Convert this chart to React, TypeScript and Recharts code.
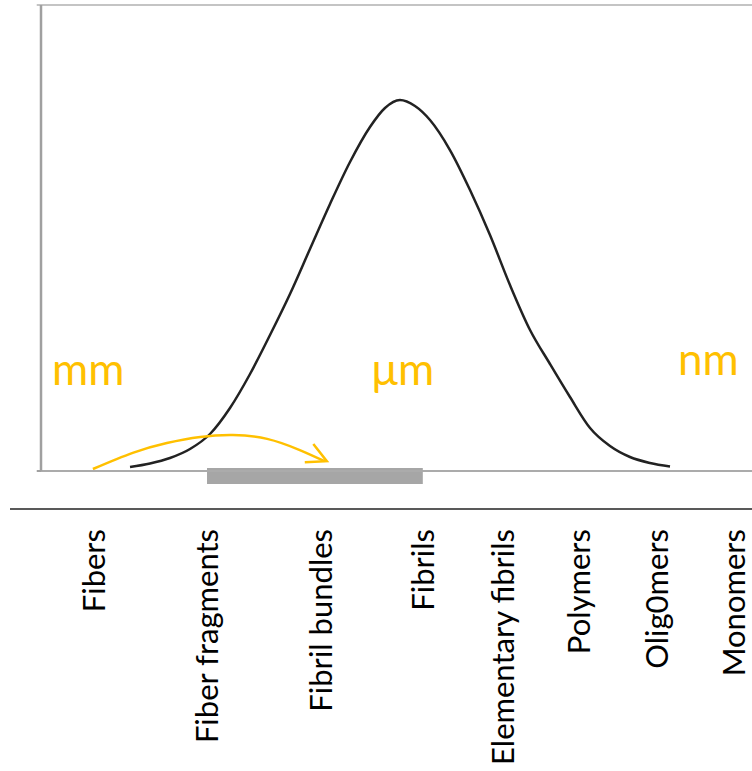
import React from "react";
import {
  ComposedChart,
  Line,
  Scatter,
  XAxis,
  YAxis,
  ReferenceLine,
  ReferenceArea,
} from "recharts";

// Size classes along the x axis (position in axis units, 0-100)
const categories = [
  "Fibers",
  "Fiber fragments",
  "Fibril bundles",
  "Fibrils",
  "Elementary fibrils",
  "Polymers",
  "Olig0mers",
  "Monomers",
];
const categoryPositions = [7.45, 23.35, 39.4, 53.7, 65.0, 75.7, 86.6, 97.5];

// Bell-shaped distribution curve
const curveX = [
  12.52, 15.33, 18.14, 20.96, 23.77, 26.58, 29.4, 32.21, 35.02, 37.83, 40.65,
  43.46, 46.27, 48.38, 50.49, 52.6, 54.71, 57.52, 60.34, 63.15, 65.96, 68.78,
  71.59, 74.4, 77.22, 80.03, 82.84, 85.65, 88.47,
];
const curveY = [
  0.86, 1.61, 2.79, 4.72, 7.94, 13.52, 20.82, 29.18, 37.98, 47.64, 57.3, 66.31,
  73.82, 77.9, 79.61, 78.33, 75.32, 68.88, 60.3, 50.64, 39.91, 30.26, 22.96,
  15.88, 9.23, 5.36, 3.0, 1.72, 0.97,
];

// Yellow arrow path and head
const arrowX = [7.3, 12.9, 17.7, 22.4, 27.0, 31.8, 36.4, 39.9];
const arrowY = [0.43, 3.9, 6.0, 7.3, 7.7, 6.9, 4.5, 2.1];
const arrowHeadX = [38.3, 40.2, 37.1];
const arrowHeadY = [5.8, 2.1, 1.9];

// Unit annotations
const unitLabels = ["mm", "\u03bcm", "nm"];
const unitX = [1.55, 46.5, 89.6];
const unitY = [18.5, 18.5, 20.6];

// Gray bar spans from "Fiber fragments" to "Fibrils"
const barStart = categoryPositions[1];
const barEnd = categoryPositions[3];
const barTop = 0.64;
const barBottom = -2.79;

const curveData = curveX.map((x, i) => ({ x, y: curveY[i] }));
const arrowData = arrowX.map((x, i) => ({ x, y: arrowY[i] }));
const arrowHeadData = arrowHeadX.map((x, i) => ({ x, y: arrowHeadY[i] }));
const unitData = unitLabels.map((t, i) => ({ x: unitX[i], y: unitY[i], t }));

const YELLOW = "#ffc000";
const FONT = "Lato, 'Open Sans', sans-serif";
const LABEL_TOP = 529;

const CategoryTick = (props: any) => {
  const { x, payload } = props;
  const idx = categoryPositions.indexOf(payload.value);
  const label = idx >= 0 ? categories[idx] : "";
  return (
    <text
      x={x}
      y={LABEL_TOP}
      transform={`rotate(-90, ${x}, ${LABEL_TOP})`}
      textAnchor="end"
      dy="0.36em"
      fontFamily={FONT}
      fontSize={31}
      fill="#000"
    >
      {label}
    </text>
  );
};

const UnitShape = (props: any) => {
  const { cx, cy, payload } = props;
  return (
    <text
      x={cx}
      y={cy}
      textAnchor="start"
      fontFamily={FONT}
      fontSize={44}
      fill={YELLOW}
    >
      {payload.t}
    </text>
  );
};

export default function App() {
  return (
    <div style={{ position: "absolute", left: 0, top: 0, background: "#fff" }}>
      <ComposedChart
        width={752}
        height={771}
        margin={{ top: 5, right: 0, bottom: 270, left: 40 }}
      >
        <XAxis
          type="number"
          dataKey="x"
          domain={[0, 100]}
          ticks={categoryPositions}
          interval={0}
          tick={<CategoryTick />}
          tickLine={false}
          axisLine={{ stroke: "#ababab", strokeWidth: 2 }}
          height={30}
        />
        <YAxis
          type="number"
          dataKey="y"
          domain={[0, 100]}
          tick={false}
          tickLine={false}
          width={1}
          axisLine={{ stroke: "#a0a0a0", strokeWidth: 2.5 }}
        />
        <ReferenceLine
          segment={[
            { x: -0.6, y: 100 },
            { x: 100, y: 100 },
          ]}
          stroke="#c4c4c4"
          strokeWidth={2}
          ifOverflow="visible"
        />
        <ReferenceLine
          segment={[
            { x: -0.6, y: 0 },
            { x: 0, y: 0 },
          ]}
          stroke="#a0a0a0"
          strokeWidth={2}
          ifOverflow="visible"
        />
        <ReferenceLine
          segment={[
            { x: -4.36, y: -8.15 },
            { x: 100, y: -8.15 },
          ]}
          stroke="#222"
          strokeWidth={1.5}
          ifOverflow="visible"
        />
        <ReferenceArea
          x1={barStart}
          x2={barEnd}
          y1={barTop}
          y2={barBottom}
          fill="#a6a6a6"
          fillOpacity={1}
          stroke="none"
          ifOverflow="visible"
        />
        <Line
          data={curveData}
          dataKey="y"
          type="monotone"
          stroke="#222"
          strokeWidth={2.5}
          dot={false}
          isAnimationActive={false}
        />
        <Line
          data={arrowData}
          dataKey="y"
          type="natural"
          stroke={YELLOW}
          strokeWidth={2.5}
          dot={false}
          isAnimationActive={false}
        />
        <Line
          data={arrowHeadData}
          dataKey="y"
          type="linear"
          stroke={YELLOW}
          strokeWidth={2.5}
          dot={false}
          isAnimationActive={false}
        />
        <Scatter
          data={unitData}
          dataKey="y"
          shape={<UnitShape />}
          isAnimationActive={false}
        />
      </ComposedChart>
    </div>
  );
}
